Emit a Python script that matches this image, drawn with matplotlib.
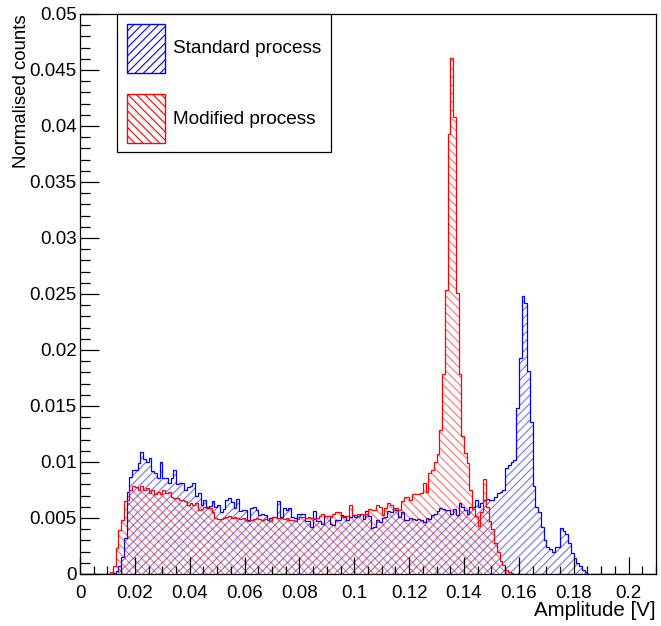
import numpy as np
import matplotlib
matplotlib.use('Agg')
import matplotlib.pyplot as plt
from matplotlib.patches import Patch
from matplotlib.ticker import MultipleLocator, FuncFormatter


# histogram binning (1 mV bins), first filled bin starts at 10 mV
bin_width = 0.001
first_bin = 0.010
x_range = [0, 0.21]

# standard process, normalised counts per bin
std_counts = [
    0.0000, 0.0000, 0.0001, 0.0003, 0.0007, 0.0015, 0.0032, 0.0073, 0.0087, 0.0093,
    0.0093, 0.0099, 0.0109, 0.0103, 0.0100, 0.0104, 0.0092, 0.0090, 0.0086, 0.0100,
    0.0086, 0.0086, 0.0081, 0.0086, 0.0093, 0.0080, 0.0081, 0.0081, 0.0075, 0.0078,
    0.0079, 0.0081, 0.0070, 0.0072, 0.0062, 0.0066, 0.0060, 0.0061, 0.0065, 0.0060,
    0.0062, 0.0055, 0.0058, 0.0066, 0.0068, 0.0064, 0.0059, 0.0067, 0.0056, 0.0057,
    0.0057, 0.0048, 0.0059, 0.0060, 0.0057, 0.0053, 0.0054, 0.0053, 0.0048, 0.0050,
    0.0051, 0.0051, 0.0065, 0.0051, 0.0059, 0.0057, 0.0059, 0.0051, 0.0050, 0.0054,
    0.0054, 0.0054, 0.0047, 0.0047, 0.0042, 0.0056, 0.0047, 0.0047, 0.0045, 0.0052,
    0.0052, 0.0045, 0.0044, 0.0048, 0.0048, 0.0053, 0.0051, 0.0048, 0.0051, 0.0053,
    0.0051, 0.0052, 0.0054, 0.0049, 0.0056, 0.0052, 0.0041, 0.0042, 0.0048, 0.0046,
    0.0050, 0.0051, 0.0056, 0.0055, 0.0059, 0.0057, 0.0051, 0.0055, 0.0048, 0.0048,
    0.0050, 0.0049, 0.0048, 0.0049, 0.0048, 0.0046, 0.0050, 0.0049, 0.0053, 0.0054,
    0.0056, 0.0059, 0.0058, 0.0057, 0.0057, 0.0054, 0.0058, 0.0053, 0.0063, 0.0060,
    0.0057, 0.0054, 0.0060, 0.0060, 0.0066, 0.0060, 0.0063, 0.0066, 0.0067, 0.0066,
    0.0066, 0.0069, 0.0072, 0.0073, 0.0075, 0.0095, 0.0097, 0.0100, 0.0102, 0.0148,
    0.0193, 0.0248, 0.0242, 0.0181, 0.0136, 0.0079, 0.0060, 0.0055, 0.0042, 0.0030,
    0.0024, 0.0022, 0.0020, 0.0024, 0.0024, 0.0041, 0.0038, 0.0036, 0.0028, 0.0019,
    0.0014, 0.0010, 0.0007, 0.0004, 0.0002,
]

# modified process, normalised counts per bin
mod_counts = [
    0.0000, 0.0002, 0.0007, 0.0023, 0.0039, 0.0048, 0.0065, 0.0066, 0.0075, 0.0079,
    0.0078, 0.0075, 0.0079, 0.0075, 0.0077, 0.0072, 0.0075, 0.0071, 0.0073, 0.0071,
    0.0075, 0.0072, 0.0073, 0.0069, 0.0068, 0.0068, 0.0066, 0.0066, 0.0065, 0.0062,
    0.0063, 0.0062, 0.0063, 0.0057, 0.0058, 0.0060, 0.0059, 0.0059, 0.0055, 0.0050,
    0.0049, 0.0049, 0.0050, 0.0051, 0.0052, 0.0050, 0.0051, 0.0050, 0.0049, 0.0050,
    0.0048, 0.0047, 0.0048, 0.0049, 0.0050, 0.0049, 0.0048, 0.0049, 0.0048, 0.0047,
    0.0051, 0.0051, 0.0050, 0.0050, 0.0049, 0.0050, 0.0048, 0.0048, 0.0047, 0.0049,
    0.0051, 0.0051, 0.0050, 0.0051, 0.0050, 0.0049, 0.0050, 0.0052, 0.0054, 0.0052,
    0.0052, 0.0051, 0.0054, 0.0055, 0.0055, 0.0052, 0.0052, 0.0052, 0.0062, 0.0053,
    0.0053, 0.0054, 0.0054, 0.0053, 0.0054, 0.0058, 0.0057, 0.0057, 0.0062, 0.0060,
    0.0053, 0.0059, 0.0063, 0.0062, 0.0059, 0.0059, 0.0057, 0.0065, 0.0069, 0.0069,
    0.0066, 0.0071, 0.0071, 0.0071, 0.0072, 0.0081, 0.0073, 0.0090, 0.0093, 0.0100,
    0.0107, 0.0129, 0.0179, 0.0254, 0.0393, 0.0461, 0.0408, 0.0251, 0.0179, 0.0123,
    0.0108, 0.0099, 0.0075, 0.0058, 0.0052, 0.0043, 0.0055, 0.0085, 0.0060, 0.0047,
    0.0040, 0.0028, 0.0020, 0.0012, 0.0008, 0.0004, 0.0002, 0.0001,
]

labels = ['Standard process', 'Modified process']
colors = ['#0000ff', '#ff0000']
hatches = ['////', '\\\\\\\\']


def full_hist(counts):
    # pad the filled bins with zeros so the histogram spans the whole axis
    nbins = int(round((x_range[1] - x_range[0]) / bin_width))
    start = int(round((first_bin - x_range[0]) / bin_width))
    h = np.zeros(nbins)
    h[start:start + len(counts)] = counts
    edges = x_range[0] + bin_width * np.arange(nbins + 1)
    return h, edges


plt.rcParams['font.family'] = ['Liberation Sans', 'DejaVu Sans']
plt.rcParams['hatch.linewidth'] = 0.8

fig = plt.figure(figsize=(6.61, 6.26), dpi=100)
ax = fig.add_axes([80/661, 1 - 574/626, 576/661, 560/626])

for counts, c, hs in zip([std_counts, mod_counts], colors, hatches):
    h, edges = full_hist(counts)
    ax.stairs(h, edges, fill=True, hatch=hs, facecolor='none',
              edgecolor=matplotlib.colors.to_rgba(c, 0.55), linewidth=0)
    ax.stairs(h, edges, color=c, linewidth=0.9)

ax.set_xlim(x_range)
ax.set_ylim(0, 0.05)

fmt = FuncFormatter(lambda v, p: '%g' % round(v, 4))
ax.xaxis.set_major_locator(MultipleLocator(0.02))
ax.xaxis.set_minor_locator(MultipleLocator(0.005))
ax.yaxis.set_major_locator(MultipleLocator(0.005))
ax.yaxis.set_minor_locator(MultipleLocator(0.001))
ax.xaxis.set_major_formatter(fmt)
ax.yaxis.set_major_formatter(fmt)

ax.tick_params(axis='x', which='major', direction='in', length=12, width=0.9, pad=8, labelsize=13.5)
ax.tick_params(axis='x', which='minor', direction='in', length=6, width=0.9)
ax.tick_params(axis='y', which='major', direction='in', length=13.5, width=0.9, pad=2.5, labelsize=13.5)
ax.tick_params(axis='y', which='minor', direction='in', length=7, width=0.9)
ax.tick_params(top=False, right=False, which='both')
for s in ax.spines.values():
    s.set_linewidth(0.9)

ax.set_xlabel('Amplitude [V]', fontsize=14.8, loc='right')
ax.xaxis.set_label_coords(1.0, -0.048)
ax.set_ylabel('Normalised counts', fontsize=13.4, loc='top')
ax.yaxis.set_label_coords(-0.087, 1.0)

handles = [Patch(facecolor='none', edgecolor=c, hatch=hs, linewidth=1.0)
           for c, hs in zip(colors, hatches)]
leg = ax.legend(handles, labels, loc='upper left', bbox_to_anchor=((117 - 80) / 576, 1.0),
                borderaxespad=0, fancybox=False, frameon=True, edgecolor='black',
                fontsize=13.7, handlelength=2.0, handleheight=3.6, labelspacing=1.1,
                handletextpad=0.45, borderpad=0.5)
leg.get_frame().set_linewidth(0.9)
leg.get_frame().set_alpha(1)

fig.savefig('out.png', dpi=100)
